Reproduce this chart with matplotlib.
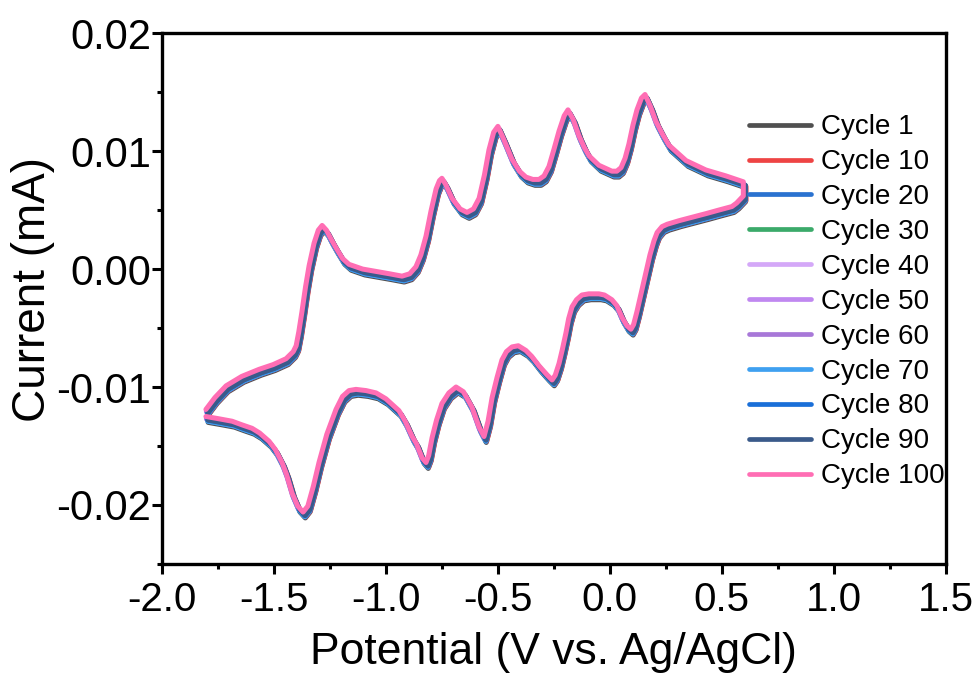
import numpy as np
import matplotlib
matplotlib.use("Agg")
import matplotlib.pyplot as plt
from matplotlib.ticker import MultipleLocator

plt.rcParams['font.family'] = ['Liberation Sans', 'DejaVu Sans']

# ---- data ----
fwd_V = [-1.800, -1.760, -1.710, -1.640, -1.5625, -1.500, -1.442, -1.410, -1.397, -1.385,
         -1.371, -1.355, -1.339, -1.317, -1.298, -1.281, -1.262, -1.240, -1.219, -1.190,
         -1.161, -1.100, -1.040, -0.980, -0.924, -0.890, -0.862, -0.840, -0.817, -0.795,
         -0.772, -0.757, -0.746, -0.730, -0.701, -0.665, -0.634, -0.605, -0.580, -0.556,
         -0.536, -0.515, -0.496, -0.470, -0.433, -0.400, -0.371, -0.340, -0.3125, -0.290,
         -0.268, -0.245, -0.223, -0.200, -0.183, -0.160, -0.134, -0.110, -0.089, -0.045,
         0.013, 0.035, 0.054, 0.072, 0.089, 0.107, 0.125, 0.145, 0.161, 0.185,
         0.210, 0.240, 0.268, 0.344, 0.433, 0.522, 0.600]
fwd_I = [-0.0121, -0.0111, -0.0101, -0.0093, -0.0087, -0.0083, -0.0078, -0.0072, -0.0067, -0.0055,
         -0.0038, -0.0017, 0.0001, 0.0020, 0.0031, 0.0035, 0.0031, 0.0023, 0.0016, 0.0007,
         0.0002, -0.0002, -0.0004, -0.0006, -0.0008, -0.0006, 0.0000, 0.0010, 0.0026, 0.0047,
         0.0066, 0.0073, 0.0075, 0.0070, 0.0058, 0.0049, 0.0046, 0.0049, 0.0058, 0.0078,
         0.0099, 0.0114, 0.0119, 0.0108, 0.0091, 0.0081, 0.0076, 0.0074, 0.0074, 0.0077,
         0.0085, 0.0100, 0.0115, 0.0128, 0.0133, 0.0125, 0.0111, 0.0101, 0.0094, 0.0086,
         0.0081, 0.0081, 0.0084, 0.0092, 0.0104, 0.0120, 0.0133, 0.0143, 0.0146, 0.0136,
         0.0123, 0.0112, 0.0103, 0.0090, 0.0082, 0.0077, 0.0072]

rev_V = [0.600, 0.570, 0.549, 0.490, 0.433, 0.3125, 0.260, 0.237, 0.215, 0.201,
         0.183, 0.165, 0.145, 0.125, 0.110, 0.098, 0.080, 0.058, 0.035, 0.013,
         -0.020, -0.045, -0.090, -0.121, -0.145, -0.165, -0.180, -0.192, -0.208, -0.223,
         -0.240, -0.254, -0.275, -0.3125, -0.345, -0.371, -0.405, -0.433, -0.458, -0.478,
         -0.500, -0.522, -0.540, -0.558, -0.580, -0.612, -0.650, -0.683, -0.715, -0.746,
         -0.770, -0.790, -0.805, -0.817, -0.835, -0.860, -0.879, -0.910, -0.938, -0.996,
         -1.040, -1.085, -1.130, -1.161, -1.190, -1.219, -1.260, -1.295, -1.320, -1.345,
         -1.366, -1.390, -1.415, -1.440, -1.460, -1.490, -1.518, -1.560, -1.594, -1.640,
         -1.683, -1.740, -1.800]
rev_I = [0.0060, 0.0054, 0.0051, 0.0048, 0.0045, 0.0039, 0.0036, 0.0034, 0.0029, 0.0022,
         0.0010, -0.0005, -0.0022, -0.0038, -0.0049, -0.0053, -0.0050, -0.0043, -0.0033, -0.0028,
         -0.0024, -0.0023, -0.0023, -0.0024, -0.0028, -0.0034, -0.0044, -0.0056, -0.0070, -0.0082,
         -0.0092, -0.0096, -0.0092, -0.0084, -0.0076, -0.0071, -0.0067, -0.0068, -0.0072, -0.0079,
         -0.0094, -0.0111, -0.0131, -0.0144, -0.0136, -0.0119, -0.0106, -0.0102, -0.0107, -0.0116,
         -0.0130, -0.0145, -0.0160, -0.0166, -0.0162, -0.0150, -0.0144, -0.0131, -0.0122, -0.0112,
         -0.0107, -0.0105, -0.0104, -0.0105, -0.0110, -0.0121, -0.0142, -0.0166, -0.0186, -0.0203,
         -0.0208, -0.0203, -0.0192, -0.0176, -0.0166, -0.0155, -0.0148, -0.0141, -0.0137, -0.0134,
         -0.0131, -0.0129, -0.0127]

cycles = ["Cycle 1", "Cycle 10", "Cycle 20", "Cycle 30", "Cycle 40", "Cycle 50",
          "Cycle 60", "Cycle 70", "Cycle 80", "Cycle 90", "Cycle 100"]
# small per-cycle drift
cycle_dV = [0.006, 0.008, 0.006, 0.004, 0.000, -0.002, -0.001, 0.004, 0.004, 0.005, -0.004]
cycle_dI = [-0.0003, -0.0002, -0.0002, -0.0001, 0.0, 0.0, 0.0, -0.0002, -0.0001, -0.0001, 0.0002]
colors = ["#505050", "#EE4444", "#2A72D0", "#3BAA6A", "#D4A8F8", "#C088F0",
          "#A878D8", "#3FA0F0", "#1A6FD8", "#3A5A8A", "#FF6EB4"]

xticks = [-2.0, -1.5, -1.0, -0.5, 0.0, 0.5, 1.0, 1.5]
yticks = [-0.02, -0.01, 0.00, 0.01, 0.02]

# ---- figure ----
fig = plt.figure(figsize=(9.76, 6.77), dpi=100)
ax = fig.add_axes([0.166, 0.167, 0.803, 0.784])

V = np.array(fwd_V + rev_V)
I = np.array(fwd_I + rev_I)
for name, c, dv, di in zip(cycles, colors, cycle_dV, cycle_dI):
    ax.plot(V + dv, I + di, color=c, lw=3.6, label=name,
            solid_joinstyle='round', solid_capstyle='round')

ax.set_xlim(-2.0, 1.5)
ax.set_ylim(-0.025, 0.02)
ax.set_xticks(xticks)
ax.set_yticks(yticks)
ax.set_xticklabels([f"{t:.1f}" for t in xticks])
ax.set_yticklabels([f"{t:.2f}" for t in yticks])
ax.xaxis.set_minor_locator(MultipleLocator(0.25))
ax.yaxis.set_minor_locator(MultipleLocator(0.005))

for s in ax.spines.values():
    s.set_linewidth(2.4)
ax.tick_params(which='major', direction='out', length=7, width=2.2, labelsize=29, pad=2)
ax.tick_params(axis='x', which='major', pad=5)
ax.tick_params(which='minor', direction='out', length=3.5, width=2.2)
ax.tick_params(axis='y', which='major', labelsize=30, pad=1)
ax.tick_params(top=False, right=False, which='both')

ax.set_xlabel("Potential (V vs. Ag/AgCl)", fontsize=32, labelpad=10)
ax.set_ylabel("Current (mA)", fontsize=33)
ax.yaxis.set_label_coords(-0.137, 0.517)

leg = ax.legend(loc='upper left', bbox_to_anchor=(0.749, 0.847), frameon=False,
                fontsize=20, handlelength=2.23, handletextpad=0.36,
                labelspacing=0.32, borderpad=0, borderaxespad=0)
for h in leg.get_lines():
    h.set_linewidth(3.4)

fig.savefig("out.png", dpi=100)
